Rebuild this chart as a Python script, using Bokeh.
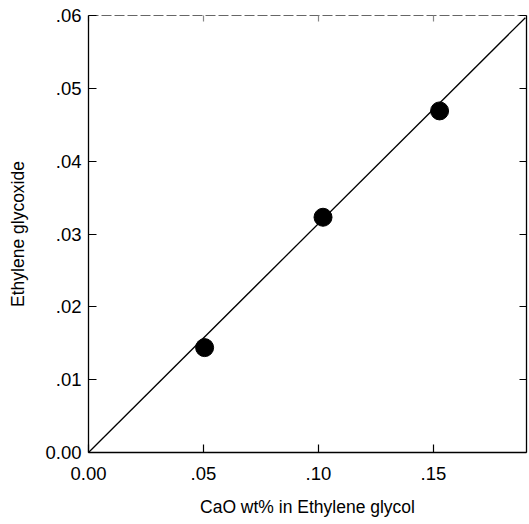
from bokeh.plotting import figure
from bokeh.models import FixedTicker, CustomJSTickFormatter, LinearAxis, Range1d
from bokeh.embed import file_html
from bokeh.resources import INLINE

# Data
cao_wt = [0.0505, 0.102, 0.1527]
glycoxide = [0.0144, 0.0323, 0.0469]
fit_x = [0.0, 0.19]
fit_y = [0.0, 0.0597]
x_ticks = [0.0, 0.05, 0.10, 0.15]
y_ticks = [0.0, 0.01, 0.02, 0.03, 0.04, 0.05, 0.06]

FONT = "Liberation Sans"

p = figure(width=529, height=524, output_backend="svg", toolbar_location=None,
           x_range=Range1d(0, 0.1905), y_range=Range1d(0, 0.06),
           min_border_left=88, min_border_right=3, min_border_top=15, min_border_bottom=72,
           x_axis_location=None, y_axis_location=None)
p.outline_line_color = None
p.grid.visible = False
p.background_fill_color = "white"
p.border_fill_color = "white"

fmt = CustomJSTickFormatter(code="""
if (Math.abs(tick) < 1e-9) { return "0.00"; }
return tick.toFixed(2).replace(/^0/, "");
""")
blank = CustomJSTickFormatter(code='return "";')

def style(ax):
    ax.major_tick_in = 8
    ax.major_tick_out = 0
    ax.minor_tick_line_color = None
    ax.axis_line_color = "black"
    ax.axis_line_width = 1.3
    ax.major_tick_line_color = "black"
    ax.major_tick_line_width = 1.2
    ax.major_label_text_font = FONT
    ax.major_label_text_font_size = "18.5px"
    ax.major_label_text_color = "black"
    ax.axis_label_text_font = FONT
    ax.axis_label_text_font_size = "17.5px"
    ax.axis_label_text_font_style = "normal"
    ax.axis_label_text_color = "black"

xb = LinearAxis(ticker=FixedTicker(ticks=x_ticks), formatter=fmt,
                axis_label="CaO wt% in Ethylene glycol")
style(xb)
xb.major_label_standoff = 14
xb.axis_label_standoff = 14
p.add_layout(xb, "below")

yl = LinearAxis(ticker=FixedTicker(ticks=y_ticks), formatter=fmt,
                axis_label="Ethylene glycoxide")
style(yl)
yl.major_label_standoff = 7
yl.axis_label_standoff = 14
p.add_layout(yl, "left")

yr = LinearAxis(ticker=FixedTicker(ticks=y_ticks), formatter=blank)
style(yr)
yr.major_tick_in = 7
yr.major_label_standoff = 0
p.add_layout(yr, "right")

xt = LinearAxis(ticker=FixedTicker(ticks=x_ticks), formatter=blank)
style(xt)
xt.axis_line_color = "#666666"
xt.axis_line_width = 1
xt.axis_line_dash = "10 3"
xt.major_tick_in = 6
xt.major_tick_line_color = "#888888"
xt.major_label_standoff = 0
p.add_layout(xt, "above")

p.line(fit_x, fit_y, line_color="black", line_width=1.3)
p.scatter(cao_wt, glycoxide, size=18, fill_color="black", line_color="black")

open("out.html", "w").write(file_html(p, INLINE))
